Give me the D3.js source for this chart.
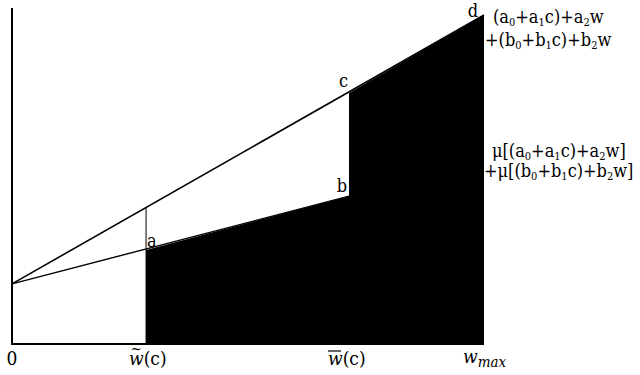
<!DOCTYPE html>
<html>
<head>
<meta charset="utf-8">
<script src="https://cdn.jsdelivr.net/npm/d3@7"></script>
<style>
  body { margin: 0; background: #fff; }
  svg, text, tspan { font-family: "DejaVu Serif Condensed", "DejaVu Serif", serif; font-stretch: condensed; }
</style>
</head>
<body>
<svg class="graph"></svg>
<script>
// w positions: 0, w~(c), w-(c), w_max
const wValues = [0, 2.84, 7.14, 10];
// top line (full benefit) and lower line (mu share)
const upperLine = [17.9, 40.5, 74.7, 97.9];
const lowerLine = [17.9, 28.0, 44.0];
const pointNames = ["a", "b", "c", "d"];
const upperLabel = ["(a_0+a_1c)+a_2w", "+(b_0+b_1c)+b_2w"];
const lowerLabel = ["\u03bc[(a_0+a_1c)+a_2w]", "+\u03bc[(b_0+b_1c)+b_2w]"];

const width = 640, height = 375;
const svg = d3.select(".graph").attr("width", width).attr("height", height);

const x = d3.scaleLinear().domain([0, 10]).range([12, 484]);
const y = d3.scaleLinear().domain([0, 100]).range([344, 8]);

const line = d3.line().x(d => x(d[0])).y(d => y(d[1]));

// black area
const area = [
  [wValues[1], lowerLine[1]],
  [wValues[2], lowerLine[2]],
  [wValues[2], upperLine[2]],
  [wValues[3], upperLine[3]],
  [wValues[3], 0],
  [wValues[1], 0]
];
svg.append("path")
    .attr("d", line(area) + "Z")
    .attr("fill", "#000");

// upper line 0 -> d
svg.append("path")
    .attr("d", line([[wValues[0], upperLine[0]], [wValues[3], upperLine[3]]]))
    .attr("stroke", "#000").attr("stroke-width", 1.6).attr("fill", "none");

// lower line 0 -> b
svg.append("path")
    .attr("d", line([[wValues[0], lowerLine[0]], [wValues[2], lowerLine[2]]]))
    .attr("stroke", "#000").attr("stroke-width", 1.4).attr("fill", "none");

// thin vertical at w~(c)
svg.append("path")
    .attr("d", line([[wValues[1], upperLine[1]], [wValues[1], 0]]))
    .attr("stroke", "#000").attr("stroke-width", 1).attr("fill", "none");

// axes
svg.append("path")
    .attr("d", line([[0, 100], [0, 0], [wValues[3], 0]]))
    .attr("stroke", "#000").attr("stroke-width", 2).attr("fill", "none");

// point labels a b c d  (dx, dy offsets from the corner)
const pts = [
  [wValues[1], lowerLine[1], 1, -3, "start"],
  [wValues[2], lowerLine[2], -2, -4, "end"],
  [wValues[2], upperLine[2], -1, -6, "end"],
  [wValues[3], upperLine[3], -6, 2, "end"]
];
svg.selectAll(".pt")
  .data(pts)
  .enter()
  .append("text")
    .attr("class", "pt")
    .attr("x", d => x(d[0]) + d[2])
    .attr("y", d => y(d[1]) + d[3])
    .attr("text-anchor", d => d[4])
    .attr("font-size", 18)
    .text((d, i) => pointNames[i]);

// formula text with subscripts
function formula(str, xx, yy) {
  const t = svg.append("text").attr("x", xx).attr("y", yy).attr("font-size", 18);
  const parts = str.split(/(_\d)/).filter(p => p);
  let shift = 0;
  parts.forEach(p => {
    if (p[0] === "_") {
      t.append("tspan").attr("font-size", 11).attr("dy", 3 - shift).text(p[1]);
      shift = 3;
    } else {
      t.append("tspan").attr("dy", -shift).text(p);
      shift = 0;
    }
  });
}
formula(upperLabel[0], 493, 23);
formula(upperLabel[1], 485, 46);
formula(lowerLabel[0], 492, 157);
formula(lowerLabel[1], 484, 177);

// x labels
const by = 365;
svg.append("text").attr("x", x(wValues[0])).attr("y", by).attr("text-anchor", "middle")
    .attr("font-size", 19).text("0");

function wLabel(xx, mark) {
  const g = svg.append("g").attr("transform", `translate(${xx},${by})`);
  const t = g.append("text").attr("x", -19).attr("font-size", 19);
  t.append("tspan").attr("font-style", "italic").text("w");
  t.append("tspan").text("(c)");
  if (mark === "tilde") {
    g.append("text").attr("x", -12).attr("y", -11).attr("text-anchor", "middle")
      .attr("font-size", 15).text("~");
  } else {
    g.append("line").attr("x1", -19).attr("x2", -6).attr("y1", -14).attr("y2", -14)
      .attr("stroke", "#000").attr("stroke-width", 1.2);
  }
}
wLabel(x(wValues[1]) + 2, "tilde");
wLabel(x(wValues[2]) - 2, "bar");

const wm = svg.append("text").attr("x", x(wValues[3]) - 21).attr("y", by - 2)
    .attr("font-size", 19).attr("font-style", "italic");
wm.append("tspan").text("w");
wm.append("tspan").attr("font-size", 15).attr("dy", 4).text("max");
</script>
</body>
</html>
